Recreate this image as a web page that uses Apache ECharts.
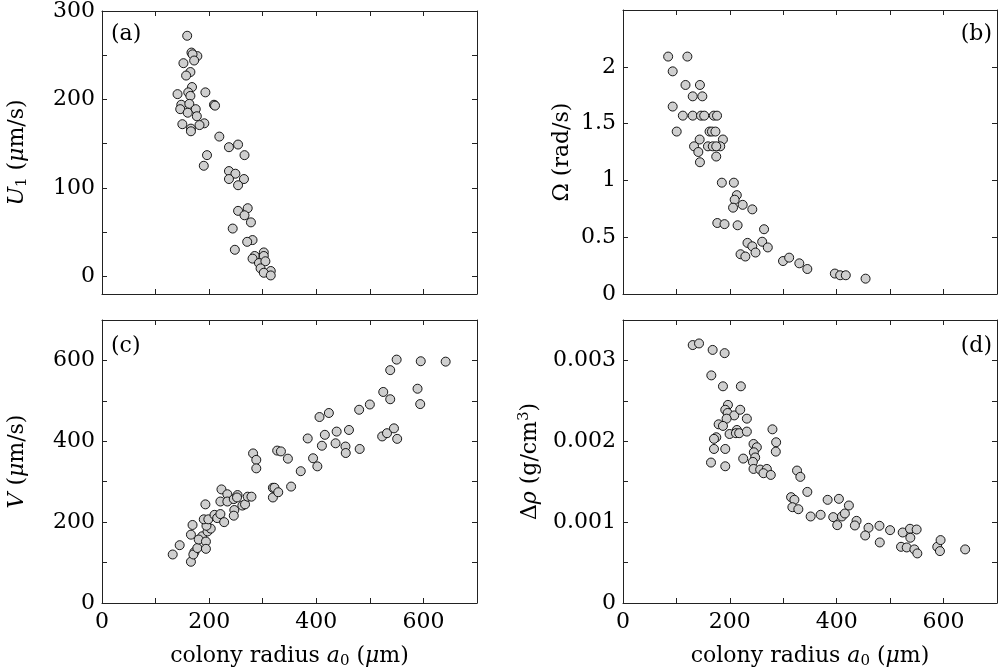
<!DOCTYPE html>
<html>
<head>
<meta charset="utf-8">
<script src="https://cdn.jsdelivr.net/npm/echarts@6/dist/echarts.min.js"></script>
<style>
html, body { margin: 0; padding: 0; background: #fff; }
#chart { width: 1000px; height: 670px; }
</style>
</head>
<body>
<div id="chart"></div>
<script>
// (a) swimming speed U1 vs colony radius
var radiusA = [159,167,178,169,172,152,165,157,168,193,141,161,165,209,211,148,163,146,175,160,
  177,191,150,182,166,166,219,237,254,266,196,190,237,249,237,265,254,272,254,266,
  278,244,281,271,248,302,285,281,302,293,305,296,315,302,315];
var speedU1 = [272,253,249,251,244,241,231,227,214,208,206,208,204,194,193,194,195,189,189,185,
  181,173,172,171,167,164,158,146,149,137,137,125,119,116,110,110,103,77,74,69,
  61,54,41,39,30,27,23,20,23,15,17,9,6,4,1];

// (b) rotation rate Omega
var radiusB = [84.5,120.5,93,117,144,130.5,148.5,93,112,130.5,146,152,170,176,100.5,162,166.5,173,143.5,187,
  133,159,168,182,174.5,141,174.5,144,185,207.5,213,209,224,206,242,176.5,190,214.5,264,233,
  260.5,242,271,248,220,229,299.5,311,330,345,396.5,406.5,417,454];
var omega = [2.09,2.09,1.96,1.84,1.84,1.74,1.74,1.65,1.57,1.57,1.57,1.57,1.57,1.57,1.43,1.43,1.43,1.43,1.36,1.36,
  1.30,1.30,1.30,1.30,1.30,1.25,1.21,1.16,0.98,0.98,0.87,0.83,0.785,0.76,0.745,0.625,0.615,0.605,0.57,0.45,
  0.46,0.42,0.41,0.365,0.35,0.33,0.29,0.32,0.27,0.22,0.18,0.165,0.165,0.135];

// (c) sedimentation speed V
var radiusC = [132,145,166,172.5,170.5,178,187,166,169,180.5,194,194,197,203,195,190,198.5,193,210,215,
  221,228,221,223,234,234,246,247,246,253,252,262,267,272,279,282,288,288,319,322,
  319,329,327,334,347,353,371,384,394,402,406,410.5,416,423.5,436,438,454.5,455,461,480,
  481,500,523,525,532,538,538,545,550,551,589,594,595,641.5];
var speedV = [120,143,102,126,120,136,165,169,193,157,152,134,177,184,191,207,207,244,218,210,
  220,200,251,281,269,251,257,230,216,267,261,241,244,263,263,370,354,333,285,285,
  261,274,377,375,357,288,326,407,358,338,460,389,416,470,395,424,387,371,428,478,
  381,491,412,522,420,504,576,432,602,406,530,492,598,597];

// (d) density offset
var radiusD = [130.5,142.3,167.8,190.2,165.3,187.1,220.6,196.4,191.4,195.8,208.2,219.4,193.9,231.8,179,187.1,213.2,199.5,211.3,217.5,
  231.8,174.6,170.3,170.3,191.4,244.3,250.5,279.7,286.6,286,244.9,247.4,243,225,164.7,191.4,244.3,256.7,269.2,262.9,
  276.6,325.7,331.9,345,314.6,320.8,317,328.2,351.2,369.9,383,404.1,393.5,409.7,415.3,422.8,437.1,434,401,459.5,
  453.3,480,499.9,480.6,523.5,537.2,549.6,537.8,520.4,531,545.3,550.9,588.2,594.4,593.2,640.4];
var deltaRho = [0.00319,0.00321,0.00313,0.00309,0.002815,0.00268,0.00268,0.00245,0.00239,0.00235,0.00232,0.00239,0.00228,0.00228,0.00221,0.00219,0.00214,0.00209,0.00210,0.00210,
  0.00212,0.00205,0.00203,0.001905,0.001905,0.001967,0.001926,0.002148,0.001988,0.001872,0.001864,0.00180,0.001745,0.001786,0.001737,0.001691,0.001658,0.00165,0.001658,0.001605,
  0.001584,0.001638,0.00156,0.001374,0.001309,0.001276,0.001185,0.00116,0.00107,0.001091,0.001276,0.001288,0.001062,0.00107,0.001107,0.001206,0.001016,0.000959,0.000963,0.00093,
  0.000835,0.000955,0.000901,0.000749,0.000872,0.000918,0.000909,0.000807,0.000695,0.000687,0.000663,0.000613,0.000695,0.000778,0.000642,0.000663];

// ticks
var xTicks = [0,100,200,300,400,500,600,700];
var xLabels = [0,200,400,600];
var yTicksA = [0,50,100,150,200,250,300], yLabelsA = [0,100,200,300];
var yTicksB = [0,0.5,1,1.5,2,2.5], yLabelsB = [0,0.5,1,1.5,2];
var yTicksC = [0,100,200,300,400,500,600,700], yLabelsC = [0,200,400,600];
var yTicksD = [0,0.0005,0.001,0.0015,0.002,0.0025,0.003,0.0035], yLabelsD = [0,0.001,0.002,0.003];

var FONT = 'DejaVu Serif';
var chart = echarts.init(document.getElementById('chart'));

var rich = {
  i: { fontFamily: FONT, fontSize: 22, fontStyle: 'italic', lineHeight: 26, color: '#000' },
  sub: { fontFamily: FONT, fontSize: 15, verticalAlign: 'bottom', lineHeight: 26, color: '#000' },
  sup: { fontFamily: FONT, fontSize: 15, verticalAlign: 'top', lineHeight: 26, color: '#000' }
};

var grids = [
  { left: 102, top: 10, width: 375, height: 284 },
  { left: 623, top: 10, width: 374, height: 284 },
  { left: 102, top: 320, width: 375, height: 284 },
  { left: 623, top: 320, width: 374, height: 284 }
];

var lineStyle = { color: '#222', width: 1 };

var makeX = function(g, pos, labels, name) {
  return {
    type: 'value', gridIndex: g, position: pos, min: 0, max: 700,
    axisLine: { show: true, onZero: false, lineStyle: lineStyle },
    axisTick: { show: true, inside: true, length: 5, customValues: xTicks, lineStyle: lineStyle },
    axisLabel: { show: !!labels, customValues: labels || [], margin: 8,
      fontFamily: FONT, fontSize: 22, color: '#000' },
    splitLine: { show: false },
    name: name || '', nameLocation: 'middle', nameGap: 40,
    nameTextStyle: { fontFamily: FONT, fontSize: 22, color: '#000', lineHeight: 26, rich: rich }
  };
};

var makeY = function(g, pos, min, max, ticks, labels, name, gap) {
  return {
    type: 'value', gridIndex: g, position: pos, min: min, max: max,
    axisLine: { show: true, onZero: false, lineStyle: lineStyle },
    axisTick: { show: true, inside: true, length: 5, customValues: ticks, lineStyle: lineStyle },
    axisLabel: { show: !!labels, customValues: labels || [], margin: 7,
      fontFamily: FONT, fontSize: 22, color: '#000',
      formatter: function(v) { return String(+v.toFixed(4)); } },
    splitLine: { show: false },
    name: name || '', nameLocation: 'middle', nameRotate: 90, nameGap: gap || 0,
    nameTextStyle: { fontFamily: FONT, fontSize: 22, color: '#000', lineHeight: 26, rich: rich }
  };
};

var xAxes = [
  makeX(0, 'bottom'), makeX(0, 'top'),
  makeX(1, 'bottom'), makeX(1, 'top'),
  makeX(2, 'bottom', xLabels, 'colony radius {i|a}{sub|0} ({i|μ}m)'), makeX(2, 'top'),
  makeX(3, 'bottom', xLabels, 'colony radius {i|a}{sub|0} ({i|μ}m)'), makeX(3, 'top')
];

var yAxes = [
  makeY(0, 'left', -20, 300, yTicksA, yLabelsA, '{i|U}{sub|1} ({i|μ}m/s)', 72), makeY(0, 'right', -20, 300, yTicksA),
  makeY(1, 'left', 0, 2.5, yTicksB, yLabelsB, 'Ω (rad/s)', 48), makeY(1, 'right', 0, 2.5, yTicksB),
  makeY(2, 'left', 0, 700, yTicksC, yLabelsC, '{i|V} ({i|μ}m/s)', 72), makeY(2, 'right', 0, 700, yTicksC),
  makeY(3, 'left', 0, 0.0035, yTicksD, yLabelsD, 'Δ{i|ρ} (g/cm{sup|3})', 80), makeY(3, 'right', 0, 0.0035, yTicksD)
];

var pairs = function(xs, ys) {
  return xs.map(function(x, i) { return [x, ys[i]]; });
};

var makeScatter = function(g, xs, ys) {
  return {
    type: 'scatter', xAxisIndex: 2 * g, yAxisIndex: 2 * g,
    symbol: 'circle', symbolSize: 9,
    itemStyle: { color: '#cfcfcf', borderColor: '#000', borderWidth: 0.9, opacity: 1 },
    emphasis: { disabled: true },
    data: pairs(xs, ys)
  };
};

var panelText = function(txt, x, y, align) {
  return { type: 'text', x: x, y: y, silent: true,
    style: { text: txt, fontFamily: FONT, fontSize: 22, fill: '#000', align: align, verticalAlign: 'middle' } };
};

chart.setOption({
  animation: false,
  grid: grids,
  xAxis: xAxes,
  yAxis: yAxes,
  series: [
    makeScatter(0, radiusA, speedU1),
    makeScatter(1, radiusB, omega),
    makeScatter(2, radiusC, speedV),
    makeScatter(3, radiusD, deltaRho)
  ],
  graphic: [
    panelText('(a)', 111, 34, 'left'),
    panelText('(b)', 992, 34, 'right'),
    panelText('(c)', 111, 346, 'left'),
    panelText('(d)', 992, 346, 'right')
  ]
});
</script>
</body>
</html>
